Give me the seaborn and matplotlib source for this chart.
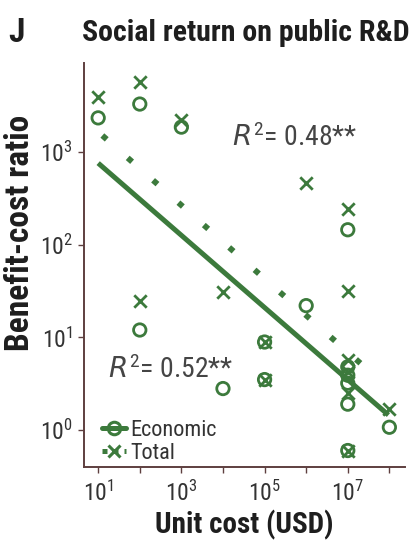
import matplotlib
matplotlib.use("Agg")
import matplotlib.pyplot as plt
from matplotlib import font_manager
from matplotlib.lines import Line2D
import numpy as np
import pandas as pd
import seaborn as sns

# ---- data -------------------------------------------------------------
econ_cost = [1e1, 1e2, 1e3, 1e2, 1e4, 1e5, 1e5, 1e6, 1e7, 1e7, 1e7, 1e7, 1e7, 1e7, 1e8]
econ_ratio = [2340, 3300, 1860, 12, 2.8, 8.9, 3.5, 22, 145, 4.8, 3.9, 3.2, 1.9, 0.6, 1.07]

total_cost = [1e1, 1e2, 1e3, 1e2, 1e4, 1e5, 1e5, 1e6, 1e7, 1e7, 1e7, 1e7, 1e7, 1e7, 1e8]
total_ratio = [3900, 5650, 2200, 24.6, 30.9, 8.9, 3.5, 460, 240, 31.6, 5.7, 4.2, 2.5, 0.6, 1.7]

# log-log fit lines (endpoints)
econ_fit_cost = [10.0, 9.5e7]
econ_fit_ratio = [760, 1.45]
total_fit_cost = [12.6, 5.6e7]
total_fit_ratio = [1510, 3.5]

x_ticks = [1e1, 1e2, 1e3, 1e4, 1e5, 1e6, 1e7, 1e8]
x_ticklabels = ["$10^1$", "", "$10^3$", "", "$10^5$", "", "$10^7$", ""]
y_ticks = [1e0, 1e1, 1e2, 1e3]
y_ticklabels = ["$10^0$", "$10^1$", "$10^2$", "$10^3$"]

r2_econ = "0.52"
r2_total = "0.48"

# ---- style ------------------------------------------------------------
GREEN = "#3c7a3c"
SPINE = "#5e3f3f"
TEXT = "#1e1e1e"
GRAY = "#454545"

sns.set_style("ticks")
available = {f.name for f in font_manager.fontManager.ttflist}
narrow = [n for n in ["Roboto Condensed", "Liberation Sans Narrow", "Open Sans Condensed"] if n in available]
families = narrow + ["Roboto", "DejaVu Sans"]
plt.rcParams["font.family"] = families
plt.rcParams["mathtext.default"] = "regular"

fig = plt.figure(figsize=(4.16, 5.54), dpi=100)
ax = fig.add_axes([0.202, 0.157, 0.772, 0.729])

econ_df = pd.DataFrame({"cost": econ_cost, "ratio": econ_ratio})
total_df = pd.DataFrame({"cost": total_cost, "ratio": total_ratio})
efit_df = pd.DataFrame({"cost": econ_fit_cost, "ratio": econ_fit_ratio})
tfit_df = pd.DataFrame({"cost": total_fit_cost, "ratio": total_fit_ratio})

sns.lineplot(data=efit_df, x="cost", y="ratio", ax=ax, color=GREEN, lw=3.6,
             solid_capstyle="butt", zorder=2)
sns.lineplot(data=tfit_df, x="cost", y="ratio", ax=ax, color=GREEN, lw=4.2,
             dashes=False, linestyle=(0, (1, 4.8)), dash_capstyle="butt", zorder=2)

sns.scatterplot(data=econ_df, x="cost", y="ratio", ax=ax, marker="o", s=80,
                facecolor="none", edgecolor=GREEN, linewidth=2.0, zorder=3)
sns.scatterplot(data=total_df, x="cost", y="ratio", ax=ax, marker="x", s=80,
                color=GREEN, linewidth=2.0, zorder=3)

ax.set_xscale("log")
ax.set_yscale("log")
ax.set_xlim(10 ** 0.66, 10 ** 8.38)
ax.set_ylim(10 ** -0.40, 10 ** 3.96)

ax.set_xticks(x_ticks)
ax.set_xticklabels(x_ticklabels)
ax.set_yticks(y_ticks)
ax.set_yticklabels(y_ticklabels)
ax.xaxis.set_minor_locator(matplotlib.ticker.NullLocator())
ax.yaxis.set_minor_locator(matplotlib.ticker.NullLocator())
ax.tick_params(axis="both", which="major", length=4, width=1.0, color=SPINE,
               labelsize=17, labelcolor="#333333")
ax.tick_params(axis="x", pad=6)
ax.tick_params(axis="y", pad=4)

for side in ("top", "right"):
    ax.spines[side].set_visible(False)
for side in ("left", "bottom"):
    ax.spines[side].set_color(SPINE)
    ax.spines[side].set_linewidth(1.4)

ax.set_xlabel("Unit cost (USD)", fontsize=21, fontweight="bold", color=TEXT, labelpad=3)
ax.set_ylabel("Benefit-cost ratio", fontsize=24, fontweight="bold", color=TEXT, labelpad=2)
ax.yaxis.set_label_coords(-0.15, 0.58)

ax.text(0.46, 0.815, r"$\mathit{R}^2$= " + r2_total + "**", transform=ax.transAxes,
        fontsize=20, color=GRAY, va="center", ha="left")
ax.text(0.075, 0.24, r"$\mathit{R}^2$= " + r2_econ + "**", transform=ax.transAxes,
        fontsize=20, color=GRAY, va="center", ha="left")

handles = [
    Line2D([], [], color=GREEN, lw=3.6, marker="o", markersize=9,
           markerfacecolor="none", markeredgecolor=GREEN, markeredgewidth=2.2),
    Line2D([], [], color=GREEN, lw=3.6, linestyle=(0, (1, 1.2)), marker="x",
           markersize=9, markeredgewidth=2.2),
]
ax.legend(handles, ["Economic", "Total"], loc="lower left", frameon=False,
          fontsize=16, handlelength=1.05, handletextpad=0.2, labelspacing=0.1,
          borderaxespad=0.2, bbox_to_anchor=(0.015, -0.025), labelcolor="#333333")

fig.text(0.02, 0.94, "J", fontsize=24, fontweight="bold", color=TEXT, va="center")
fig.text(0.198, 0.94, "Social return on public R&D", fontsize=21.5, fontweight="bold",
         color=TEXT, va="center")

fig.savefig("out.png", dpi=100)
